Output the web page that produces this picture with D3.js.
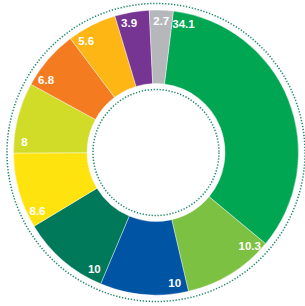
<!DOCTYPE html>
<html>
<head>
<meta charset="utf-8">
<script src="https://cdn.jsdelivr.net/npm/d3@7"></script>
<style>
  body { margin: 0; background: #fff; }
  svg { display: block; }
</style>
</head>
<body>
<svg></svg>
<script>
// Andele i procent, med uret fra toppen
const values = [34.1, 10.3, 10, 10, 8.6, 8, 6.8, 5.6, 3.9, 2.7];
const labels = ["34.1", "10.3", "10", "10", "8.6", "8", "6.8", "5.6", "3.9", "2.7"];
const colors = ["#00a651", "#7dc142", "#0054a4", "#00785a", "#ffe30f",
                "#d0dc28", "#f47b20", "#fdb614", "#773593", "#b6b7ba"];

const width = 305;
const height = 306;
const cx = 156, cy = 152.5;
const outerR = 142.5, innerR = 69;

const svg = d3.select("svg")
  .attr("width", width)
  .attr("height", height);

const g = svg.append("g")
  .attr("transform", `translate(${cx},${cy})`);

// Pie starter lidt til højre for toppen
const start = 7 * Math.PI / 180;
const pie = d3.pie()
  .sort(null)
  .value(d => d)
  .startAngle(start)
  .endAngle(start + 2 * Math.PI);

const arcs = pie(values);

const arc = d3.arc()
  .innerRadius(innerR)
  .outerRadius(outerR);

g.selectAll("path.slice")
  .data(arcs)
  .join("path")
  .attr("class", "slice")
  .attr("d", arc)
  .attr("fill", (d, i) => colors[i])
  .attr("stroke", "#fff")
  .attr("stroke-width", 0.4);

// Prikkede cirkler inde og ude
[63, 149].forEach(r => {
  g.append("circle")
    .attr("r", r)
    .attr("fill", "none")
    .attr("stroke", "#1b8a6d")
    .attr("stroke-width", 1.5)
    .attr("stroke-dasharray", "1.3 1.7");
});

// Tal ved starten af hvert stykke, tæt på yderkanten
const labelR = 132;
const offset = 5 * Math.PI / 180;
g.selectAll("text.lbl")
  .data(arcs)
  .join("text")
  .attr("class", "lbl")
  .attr("x", d => labelR * Math.sin(d.startAngle + offset))
  .attr("y", d => -labelR * Math.cos(d.startAngle + offset))
  .attr("text-anchor", "middle")
  .attr("dy", "0.36em")
  .attr("fill", "#fff")
  .attr("font-family", "Liberation Sans, Arial, sans-serif")
  .attr("font-weight", "bold")
  .attr("font-size", 11.5)
  .text((d, i) => labels[i]);
</script>
</body>
</html>
